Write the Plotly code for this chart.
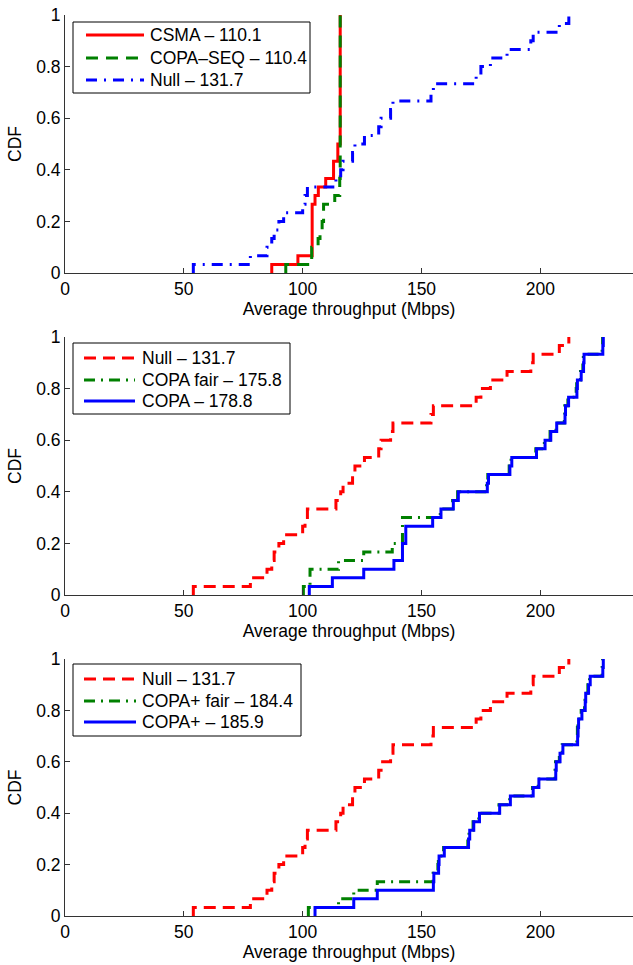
import plotly.graph_objects as go

# ---------------- data ----------------
null_vals = [54, 78, 85, 87, 88, 90, 92, 100, 101, 102,
             114, 116, 117, 121, 122, 126, 132, 133, 137, 138,
             154, 155, 173, 175, 179, 186, 196, 197, 208, 212]

csma_vals = [87, 98, 104, 104, 104, 104, 104, 104, 105.2, 106.6,
             109.7, 113, 113, 114.8, 114.8, 115.8, 115.8, 115.8, 115.8, 115.8,
             115.8, 115.8, 115.8, 115.8, 115.8, 115.8, 115.8, 115.8, 115.8, 115.8]

copaseq_vals = [92.9, 103.8, 103.8, 106.5, 107.3, 108.2, 108.8, 108.8, 113.5, 115.6,
                115.6, 115.8, 115.8, 115.8, 115.8, 115.8, 115.8, 115.8, 115.8, 115.8,
                115.8, 115.8, 115.8, 115.8, 115.8, 115.8, 115.8, 115.8, 115.8, 115.8]

copa_vals = [102.8, 112.5, 125.7, 138.4, 142.0, 142.0, 143.4, 143.4, 154.7, 158.2,
             163.4, 165.5, 177.7, 178.2, 187.2, 188.0, 198.4, 202.0, 204.4, 206.9,
             210.4, 210.6, 211.9, 215.4, 215.6, 217.2, 218.2, 218.4, 226.3, 226.5]

copafair_vals = [100.3, 103.1, 103.1, 115.1, 125.7, 137.7, 142.0, 142.0, 142.0, 157.9,
                 163.1, 165.2, 177.4, 177.9, 186.9, 187.7, 198.1, 201.7, 204.1, 206.6,
                 210.1, 210.3, 211.6, 215.1, 215.3, 216.9, 217.9, 218.1, 226.0, 226.2]

copaplus_vals = [105.2, 121.5, 131.4, 155.0, 155.2, 157.2, 157.4, 159.6, 169.8, 170.3,
                 172.0, 174.4, 182.9, 187.4, 197.0, 199.4, 206.5, 206.7, 208.3, 209.5,
                 215.7, 215.9, 216.1, 217.5, 218.9, 219.1, 220.3, 221.0, 226.3, 226.5]

copaplusfair_vals = [102.4, 115.1, 121.5, 131.4, 154.9, 156.9, 157.1, 159.3, 169.5, 170.0,
                     171.7, 174.1, 182.6, 187.1, 196.7, 199.1, 206.2, 206.4, 208.0, 209.2,
                     215.4, 215.6, 215.8, 217.2, 218.6, 218.8, 220.0, 220.7, 226.0, 226.2]

x_ticks = [0, 50, 100, 150, 200]
y_ticks = [0, 0.2, 0.4, 0.6, 0.8, 1]
y_ticklabels = ["0", "0.2", "0.4", "0.6", "0.8", "1"]

x_title = "Average throughput (Mbps)"
y_title = "CDF"

panels = [
    # (axis suffix, series list: (label, values, color, dash))
    ("", [("CSMA – 110.1", csma_vals, "#ff0000", "solid"),
          ("COPA–SEQ – 110.4", copaseq_vals, "#008000", "12px,8px"),
          ("Null – 131.7", null_vals, "#0000ff", "11px,7px,2px,7px")]),
    ("2", [("Null – 131.7", null_vals, "#ff0000", "12px,7px"),
           ("COPA fair – 175.8", copafair_vals, "#008000", "11px,6px,2px,6px"),
           ("COPA – 178.8", copa_vals, "#0000ff", "solid")]),
    ("3", [("Null – 131.7", null_vals, "#ff0000", "12px,7px"),
           ("COPA+ fair – 184.4", copaplusfair_vals, "#008000", "11px,6px,2px,6px"),
           ("COPA+ – 185.9", copaplus_vals, "#0000ff", "solid")]),
]

# ---------------- layout geometry ----------------
W, H = 633, 965
ML, MR, MT, MB = 65, 0, 15, 49
PW, PH = W - ML - MR, H - MT - MB


def px(x):
    return (x - ML) / PW


def py(y):
    return (H - MB - y) / PH


# pixel rows of each panel (top, bottom)
panel_rows = [(15, 273), (337, 595), (659, 916)]
# legend boxes: (x0, y0, x1, y1, sample_x0, sample_x1, text_x, row ys)
legend_boxes = [
    (73, 22, 310, 93, 86, 144, 148, [35, 58, 80]),
    (73, 343, 290, 414, 84, 135, 140, [358, 380, 401]),
    (73, 664, 301, 736, 84, 136, 140, [679, 701, 722]),
]

FONT = "Liberation Sans, Arial, Helvetica, sans-serif"
FS = 17.5
AXC = "#333333"


def cdf_xy(vals):
    s = sorted(vals)
    n = len(s)
    xs = [s[0]] + s
    ys = [0.0] + [(i + 1) / n for i in range(n)]
    return xs, ys


fig = go.Figure()
shapes = []
annotations = []

for (suffix, series), (ytop, ybot), lb in zip(panels, panel_rows, legend_boxes):
    for label, vals, color, dash in series:
        xs, ys = cdf_xy(vals)
        fig.add_trace(go.Scatter(
            x=xs, y=ys, mode="lines", line_shape="hv", name=label,
            line=dict(color=color, width=3, dash=dash),
            xaxis="x" + suffix, yaxis="y" + suffix, showlegend=False,
            hoverinfo="skip"))
    xa = dict(domain=[0, 1], range=[0, 239], tickvals=x_ticks,
              ticks="inside", ticklen=5, tickcolor=AXC, tickwidth=1,
              showline=True, linecolor=AXC, linewidth=1, showgrid=False,
              zeroline=False, mirror=False,
              tickfont=dict(family=FONT, size=FS, color="black"),
              title=dict(text=x_title, font=dict(family=FONT, size=FS, color="black"),
                         standoff=4),
              anchor="y" + suffix, fixedrange=True)
    ya = dict(domain=[py(ybot), py(ytop)], range=[0, 1], tickvals=y_ticks,
              ticktext=y_ticklabels,
              ticks="inside", ticklen=5, tickcolor=AXC, tickwidth=1,
              showline=True, linecolor=AXC, linewidth=1, showgrid=False,
              zeroline=False, mirror=False,
              tickfont=dict(family=FONT, size=FS, color="black"),
              title=dict(text=y_title, font=dict(family=FONT, size=FS, color="black"),
                         standoff=10),
              anchor="x" + suffix, fixedrange=True)
    fig.update_layout(**{"xaxis" + suffix: xa, "yaxis" + suffix: ya})

    # legend box
    x0, y0, x1, y1, sx0, sx1, tx, rows = lb
    shapes.append(dict(type="rect", xref="paper", yref="paper",
                       x0=px(x0), x1=px(x1), y0=py(y1), y1=py(y0),
                       line=dict(color="black", width=1), fillcolor="white",
                       layer="above"))
    for (label, vals, color, dash), ry in zip(series, rows):
        shapes.append(dict(type="line", xref="paper", yref="paper",
                           x0=px(sx0), x1=px(sx1), y0=py(ry), y1=py(ry),
                           line=dict(color=color, width=3, dash=dash),
                           layer="above"))
        annotations.append(dict(xref="paper", yref="paper", x=px(tx), y=py(ry),
                                text=label, showarrow=False, xanchor="left",
                                yanchor="middle",
                                font=dict(family=FONT, size=FS, color="black")))

fig.update_layout(width=W, height=H,
                  margin=dict(l=ML, r=MR, t=MT, b=MB, autoexpand=False),
                  paper_bgcolor="white", plot_bgcolor="white",
                  shapes=shapes, annotations=annotations, showlegend=False)

fig.write_html("out.html")
